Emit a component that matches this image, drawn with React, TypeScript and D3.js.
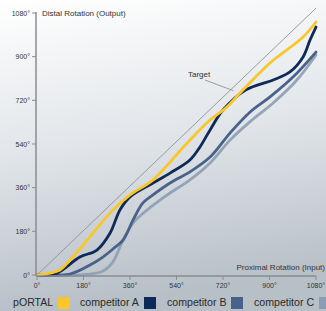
import * as d3 from "d3";

const W = 326;
const H = 311;

const xTicks = [0, 180, 360, 540, 720, 900, 1080];
const yTicks = [0, 180, 360, 540, 720, 900, 1080];

// [input, output] in degrees
const portal = [
  [0, 0], [89, 21], [128, 62], [205, 157], [283, 256], [360, 330], [449, 392],
  [581, 544], [670, 639], [735, 692], [786, 750], [902, 874], [1030, 981], [1080, 1043],
];
const compA = [
  [0, 0], [70, 4], [166, 74], [232, 103], [283, 173], [321, 268], [360, 322],
  [449, 379], [515, 420], [592, 474], [631, 528], [670, 598], [720, 680], [809, 763],
  [914, 804], [979, 837], [1030, 899], [1057, 969], [1080, 1022],
];
const compB = [
  [0, 0], [128, 4], [205, 41], [255, 74], [294, 107], [333, 144], [372, 227],
  [410, 297], [449, 330], [515, 379], [592, 425], [670, 486], [747, 585], [825, 672],
  [902, 734], [991, 816], [1080, 919],
];
const compC = [
  [0, 0], [205, 4], [255, 16], [294, 54], [333, 144], [372, 214], [426, 268],
  [476, 309], [515, 338], [592, 392], [670, 462], [747, 556], [825, 632], [914, 709],
  [1006, 804], [1080, 907],
];

const seriesNames = ["pORTAL", "competitor A", "competitor B", "competitor C"];
const seriesColors = ["#fac72a", "#0d2a58", "#48628a", "#8c9db3"];
const seriesData = [portal, compA, compB, compC];

export default function App() {
  const x = d3.scaleLinear().domain([0, 1080]).range([37, 316]);
  const y = d3.scaleLinear().domain([0, 1080]).range([275, 13]);

  const line = d3
    .line<number[]>()
    .x((d) => x(d[0]))
    .y((d) => y(d[1]))
    .curve(d3.curveCatmullRom.alpha(0.5));

  const axisCol = "#8a8d90";
  const legendX = [13, 80, 167, 254];
  const swatchX = [58, 144, 231, 319];

  // draw order: light ones at the back
  const order = [3, 2, 1, 0];

  return (
    <svg
      width={W}
      height={H}
      style={{ position: "fixed", left: 0, top: 0 }}
      fontFamily="Liberation Sans, Arial, sans-serif"
    >
      <defs>
        <linearGradient id="bg" x1="0" y1="0" x2="0.15" y2="1">
          <stop offset="0" stopColor="#ffffff" />
          <stop offset="0.5" stopColor="#e1e5e9" />
          <stop offset="1" stopColor="#b7bfc7" />
        </linearGradient>
      </defs>
      <rect width={W} height={H} fill="url(#bg)" />

      {/* target line */}
      <line x1={x(0)} y1={y(0)} x2={x(1080)} y2={y(1100)} stroke="#8e9196" strokeWidth={0.9} />
      <line x1={205} y1={80} x2={x(760)} y2={y(760)} stroke="#8e9196" strokeWidth={0.9} />
      <text x={188} y={77} fontSize={8} fill="#333">Target</text>

      {order.map((i) => (
        <path
          key={seriesNames[i]}
          d={line(seriesData[i] as number[][]) || ""}
          fill="none"
          stroke={seriesColors[i]}
          strokeWidth={2.8}
          strokeLinecap="round"
          opacity={i === 3 ? 0.9 : 1}
        />
      ))}

      {/* y axis */}
      <line x1={x(0) - 1} x2={x(0) - 1} y1={y(1080) - 1} y2={y(0) + 1} stroke={axisCol} strokeWidth={1.5} />
      {yTicks.map((t) => (
        <g key={"y" + t}>
          <line x1={x(0) - 5} x2={x(0) - 1} y1={y(t)} y2={y(t)} stroke={axisCol} strokeWidth={1} />
          <text x={x(0) - 7} y={y(t) + 2.5} fontSize={7} textAnchor="end" fill="#333">
            {t + "°"}
          </text>
        </g>
      ))}
      <text x={42} y={16} fontSize={8} fill="#333">Distal Rotation (Output)</text>

      {/* x axis */}
      <line x1={x(0) - 1} x2={x(1080)} y1={y(0) + 1} y2={y(0) + 1} stroke={axisCol} strokeWidth={1.5} />
      {xTicks.map((t) => (
        <g key={"x" + t}>
          <line x1={x(t)} x2={x(t)} y1={y(0) + 1} y2={y(0) + 5} stroke={axisCol} strokeWidth={1} />
          <text x={x(t)} y={y(0) + 13} fontSize={7} textAnchor="middle" fill="#333">
            {t + "°"}
          </text>
        </g>
      ))}
      <text x={325} y={270} fontSize={8} textAnchor="end" fill="#333">Proximal Rotation (Input)</text>

      {/* legend */}
      {seriesNames.map((n, i) => (
        <g key={n}>
          <text x={legendX[i]} y={306} fontSize={10.6} fill="#2a2a2a">{n}</text>
          <rect x={swatchX[i]} y={297} width={12} height={12} fill={seriesColors[i]} />
        </g>
      ))}
    </svg>
  );
}
